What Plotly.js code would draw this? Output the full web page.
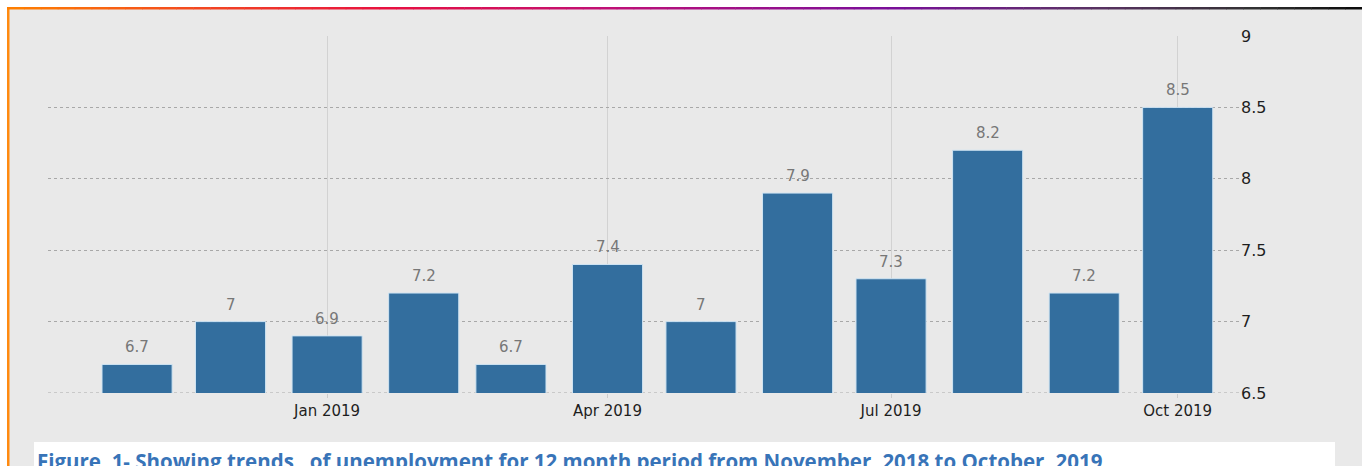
<!DOCTYPE html>
<html>
<head>
<meta charset="utf-8">
<script src="https://cdn.plot.ly/plotly-3.0.1.min.js"></script>
<style>
  html, body { margin: 0; padding: 0; background: #ffffff; }
  #chart { width: 1362px; height: 466px; }
</style>
</head>
<body>
<div id="chart"></div>
<script>
// ---- data ----
const months = ['2018-11-01','2018-12-01','2019-01-01','2019-02-01','2019-03-01','2019-04-01',
                '2019-05-01','2019-06-01','2019-07-01','2019-08-01','2019-09-01','2019-10-01'];
const unemployment = [6.7, 7, 6.9, 7.2, 6.7, 7.4, 7, 7.9, 7.3, 8.2, 7.2, 8.5];
const yTicks = [6.5, 7, 7.5, 8, 8.5, 9];
const captionText = 'Figure\u00a0 1- Showing trends \u00a0 of unemployment for 12 month period from November, 2018 to October, 2019';

// ---- layout helpers (pixel -> paper) ----
const W = 1362, H = 466;
const M = {l: 48, r: 122, t: 36, b: 73};
const PW = W - M.l - M.r, PH = H - M.t - M.b;
const px = x => (x - M.l) / PW;
const py = y => (H - M.b - y) / PH;

const shapes = [];
// baseline dotted line at the bottom of the range
shapes.push({type:'line', xref:'paper', yref:'y', x0:0, x1:1, y0:yTicks[0], y1:yTicks[0], layer:'below',
             line:{color:'#a8a8a8', width:1, dash:'dot'}});
// white outer strips
shapes.push({type:'rect', xref:'paper', yref:'paper', x0:px(0), x1:px(W), y0:py(0), y1:py(7), fillcolor:'#ffffff', line:{width:0}});
shapes.push({type:'rect', xref:'paper', yref:'paper', x0:px(0), x1:px(7), y0:py(0), y1:py(H), fillcolor:'#ffffff', line:{width:0}});
// left orange border
shapes.push({type:'rect', xref:'paper', yref:'paper', x0:px(7), x1:px(9.5), y0:py(7), y1:py(H), fillcolor:'#ff8a10', line:{width:0}});
// top gradient border
const stops = [[0,[255,128,0]],[0.28,[232,16,64]],[0.45,[190,16,120]],[0.65,[122,14,154]],[0.8,[90,50,100]],[0.92,[50,50,50]],[1,[10,10,10]]];
function gcol(t){
  for (let i=0;i<stops.length-1;i++){
    const a=stops[i], b=stops[i+1];
    if (t>=a[0] && t<=b[0]){
      const f=(t-a[0])/(b[0]-a[0]);
      const c=a[1].map((v,k)=>Math.round(v+(b[1][k]-v)*f));
      return 'rgb('+c.join(',')+')';
    }
  }
  return 'rgb(10,10,10)';
}
const NSEG = 80;
for (let i=0;i<NSEG;i++){
  const x0 = 7 + (W-7)*i/NSEG, x1 = 7 + (W-7)*(i+1)/NSEG + 0.5;
  shapes.push({type:'rect', xref:'paper', yref:'paper', x0:px(x0), x1:px(x1), y0:py(7), y1:py(9.5), fillcolor:gcol((i+0.5)/NSEG), line:{width:0}});
}
// caption white box
shapes.push({type:'rect', xref:'paper', yref:'paper', x0:px(34), x1:px(1335), y0:py(442), y1:py(H+2), fillcolor:'#ffffff', line:{width:0}});

// bar value labels
const annotations = months.map((m,i)=>({
  x: m, y: unemployment[i], xref:'x', yref:'y',
  text: String(unemployment[i]), showarrow:false, yanchor:'bottom', yshift:6,
  font:{family:'DejaVu Sans', size:15, color:'#777777'}
}));
annotations.push({
  xref:'paper', yref:'paper', x:px(35), y:py(445), xanchor:'left', yanchor:'top',
  text:'<b>'+captionText+'</b>', showarrow:false,
  font:{family:'Open Sans', size:20.5, color:'#3874b8'}
});

const trace = {
  type:'bar', x: months, y: unemployment,
  width: 22.5*86400000,
  marker:{color:'#336e9e', line:{color:'#cfe4f3', width:1}},
  hoverinfo:'x+y'
};

const layout = {
  width: W, height: H, autosize:false,
  margin: M,
  paper_bgcolor:'#e9e9e9', plot_bgcolor:'#e9e9e9',
  showlegend:false,
  font:{family:'DejaVu Sans', color:'#222'},
  xaxis:{
    type:'date', range:['2018-10-03 10:00','2019-10-21'],
    tick0:'2019-01-01', dtick:'M3', tickformat:'%b %Y',
    showgrid:true, gridcolor:'#d2d2d2', gridwidth:1,
    ticks:'outside', ticklen:4, tickcolor:'#cccccc',
    showline:false, zeroline:false,
    tickfont:{family:'DejaVu Sans', size:15, color:'#1e1e1e'}
  },
  yaxis:{
    side:'right', range:[6.5,9], tickvals:yTicks, ticktext:yTicks.map(String),
    showgrid:true, gridcolor:'#a8a8a8', griddash:'dot', gridwidth:1,
    zeroline:false, showline:false, ticks:'',
    tickfont:{family:'DejaVu Sans', size:16, color:'#1e1e1e'}
  },
  shapes: shapes,
  annotations: annotations,
  bargap:0
};

Plotly.newPlot('chart', [trace], layout, {displayModeBar:false, staticPlot:true});
</script>
</body>
</html>
